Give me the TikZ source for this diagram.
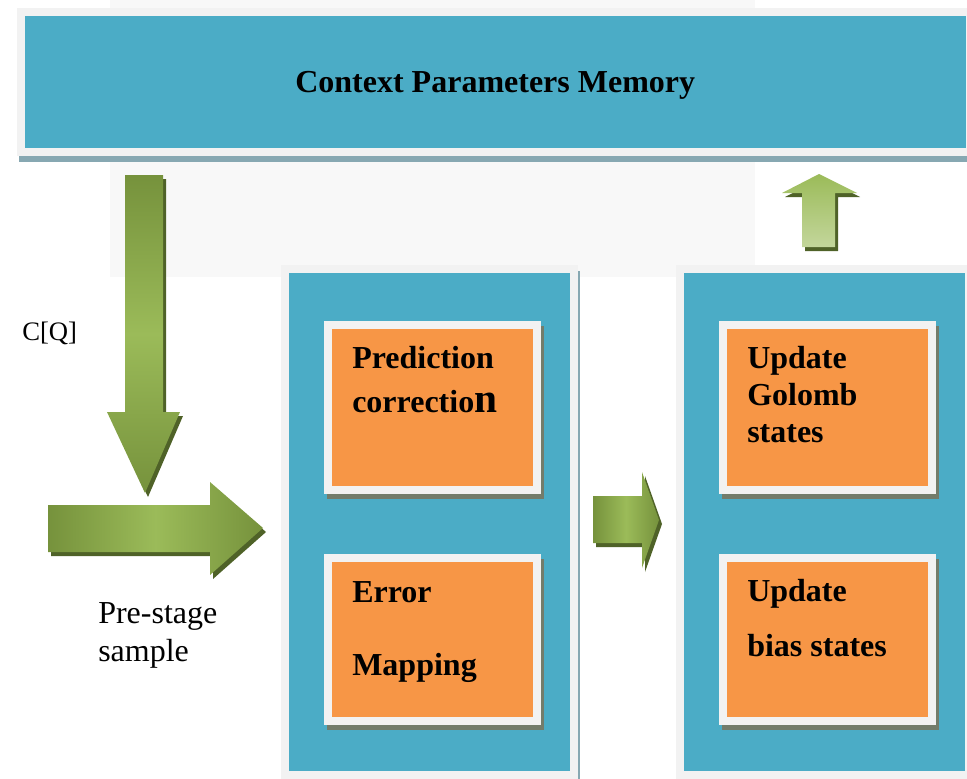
\documentclass[tikz,border=0pt]{standalone}
\usepackage{fontspec}
\setmainfont{Liberation Serif}
\usepackage{tikz}
\usetikzlibrary{positioning,shadows}
\definecolor{panelblue}{HTML}{4BACC6}
\definecolor{framegray}{HTML}{F2F2F2}
\definecolor{boxorange}{HTML}{F79646}
\definecolor{boxshadow}{HTML}{737C6B}
\definecolor{panelshadow}{HTML}{87A8B2}
\definecolor{greenlight}{HTML}{9BBB59}
\definecolor{greenmid}{HTML}{76923C}
\definecolor{greendeep}{HTML}{4F6228}
\definecolor{greenpale}{HTML}{C3D69B}
\definecolor{markgray}{HTML}{F8F8F8}
\tikzset{
  frame/.style={draw=framegray,line width=6pt,inner sep=0pt,outer sep=0pt,anchor=north west},
  panel/.style={frame,fill=panelblue,
    drop shadow={shadow xshift=1.8pt,shadow yshift=-4.5pt,fill=panelshadow,draw=panelshadow,line width=6pt,opacity=1}},
  stepbox/.style={frame,fill=boxorange,minimum width=156.75pt,
    drop shadow={shadow xshift=1.9pt,shadow yshift=-4.1pt,fill=boxshadow,draw=boxshadow,line width=6pt,opacity=1}},
  boxtxt/.style={font=\bfseries\fontsize{24}{33}\selectfont,align=left,anchor=base west,inner sep=0pt},
  note/.style={font=\fontsize{24}{28.5}\selectfont,align=left,anchor=base west,inner sep=0pt},
  barrow/.style={preaction={fill=greendeep,transform canvas={xshift=2.25pt,yshift=-3pt}}},
}

\begin{document}
\begin{tikzpicture}[x=0.75pt,y=-0.75pt]
\useasboundingbox (0,0) rectangle (967,778);
% faint watermark behind the top
\fill[markgray] (110,0) rectangle (755,277);

% memory bar
\node[panel,minimum width=712.1pt,minimum height=105pt,text depth=0pt,
  font=\bfseries\fontsize{24}{28}\selectfont] (mem) at (20.5,12) {Context Parameters Memory};

% stage panels
\node[panel,minimum width=216.4pt,minimum height=379.5pt] (mid) at (285,269) {};
\node[panel,minimum width=216.75pt,minimum height=379.5pt] (right) at (680,269) {};

% inner steps
\node[stepbox,minimum height=123.75pt] (pred) at (328,325) {};
\node[stepbox,minimum height=122.25pt,below=51pt of pred.south west,anchor=north west] (err) {};
\node[stepbox,minimum height=123.75pt] (golomb) at (723,325) {};
\node[stepbox,minimum height=122.25pt,below=51pt of golomb.south west,anchor=north west] (bias) {};

% step texts (base = last line)
\node[boxtxt] (predtxt) at ([xshift=18pt,yshift=-65.25pt]pred.north west)
  {Prediction\\correctio{\fontsize{31}{33}\selectfont n}};
\node[boxtxt,font=\bfseries\fontsize{24}{54.75}\selectfont] (errtxt) at ([xshift=18pt,yshift=-87.75pt]err.north west)
  {Error\\Mapping};
\node[boxtxt,font=\bfseries\fontsize{24}{27.75}\selectfont] (goltxt) at ([xshift=18pt,yshift=-87.75pt]golomb.north west)
  {Update\\Golomb\\states};
\node[boxtxt,font=\bfseries\fontsize{24}{41.25}\selectfont] (biastxt) at ([xshift=18pt,yshift=-73.5pt]bias.north west)
  {Update\\bias states};

% block arrows
\shade[barrow,top color=greenmid,bottom color=greenmid,middle color=greenlight]
  (125,175) -- (163,175) -- (163,412) -- (180,412) -- (145,493) -- (107,412) -- (125,412) -- cycle;
\shade[barrow,left color=greenmid,right color=greenmid,middle color=greenlight]
  (48,505) -- (210,505) -- (210,482) -- (263,528) -- (210,575) -- (210,552) -- (48,552) -- cycle;
\shade[barrow,left color=greenmid,right color=greenmid,middle color=greenlight]
  (593,496) -- (642,496) -- (642,472) -- (659,520) -- (642,568) -- (642,543) -- (593,543) -- cycle;
\shade[barrow,top color=greenlight,bottom color=greenpale]
  (802,247) -- (802,193) -- (782,193) -- (819,174) -- (857,193) -- (835,193) -- (835,247) -- cycle;

% labels
\node[note,font=\fontsize{20}{24}\selectfont] (cq) at (22,340) {C[Q]};
\node[note] (pre) at (98,661) {Pre-stage\\sample};

\end{tikzpicture}
\end{document}
